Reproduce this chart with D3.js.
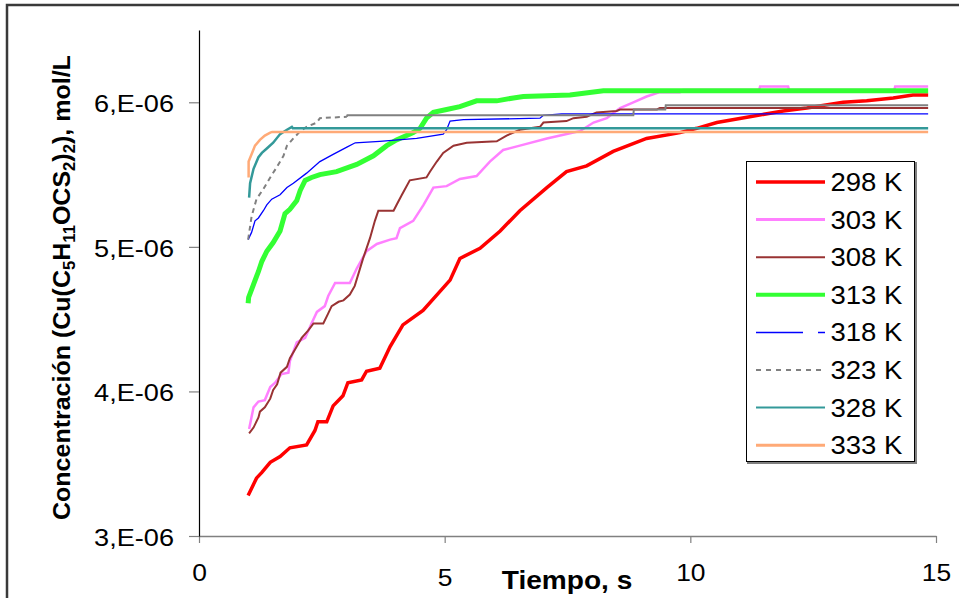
<!DOCTYPE html>
<html>
<head>
<meta charset="utf-8">
<script src="https://cdn.jsdelivr.net/npm/d3@7"></script>
<style>
  body { margin: 0; background: #fff; }
  text { font-family: "Liberation Sans", Arial, sans-serif; fill: #000; }
</style>
</head>
<body>
<script>
// time in s, concentration in units of 1E-06 mol/L
var s298 = [[1.00,3.28],[1.17,3.40],[1.28,3.44],[1.45,3.51],[1.65,3.55],[1.85,3.61],[2.19,3.63],[2.36,3.73],
  [2.42,3.79],[2.60,3.79],[2.73,3.90],[2.93,3.97],[3.03,4.06],[3.31,4.08],[3.41,4.14],[3.68,4.16],[3.89,4.31],
  [4.15,4.46],[4.56,4.56],[5.11,4.77],[5.31,4.92],[5.72,4.99],[6.13,5.11],[6.53,5.25],[7.08,5.41],[7.48,5.52],
  [7.89,5.56],[8.43,5.66],[9.11,5.75],[9.79,5.79],[10.13,5.82],[10.54,5.86],[11.21,5.90],[11.89,5.94],
  [12.37,5.96],[13.11,6.00],[13.59,6.01],[14.13,6.03],[14.53,6.05],[14.84,6.05]];
var s303 = [[1.02,3.74],[1.11,3.89],[1.21,3.93],[1.34,3.94],[1.45,4.03],[1.55,4.06],[1.68,4.12],[1.82,4.13],
  [1.85,4.21],[1.99,4.34],[2.16,4.37],[2.29,4.47],[2.40,4.55],[2.56,4.59],[2.63,4.66],[2.77,4.75],[3.07,4.75],
  [3.21,4.85],[3.41,4.97],[3.62,5.02],[3.89,5.05],[4.02,5.06],[4.09,5.13],[4.36,5.18],[4.57,5.29],[4.77,5.41],
  [5.04,5.42],[5.31,5.47],[5.65,5.49],[5.92,5.59],[6.19,5.67],[6.53,5.70],[7.08,5.75],[7.35,5.77],[7.75,5.80],
  [8.03,5.86],[8.30,5.89],[8.57,5.96],[8.84,6.00],[9.11,6.04],[9.38,6.07],[9.79,6.07],[9.85,6.085],[11.40,6.085],
  [11.42,6.11],[11.99,6.11],[12.01,6.085],[14.15,6.085],[14.17,6.11],[14.84,6.11]];
var s308 = [[1.02,3.71],[1.11,3.75],[1.21,3.82],[1.24,3.86],[1.34,3.89],[1.45,3.95],[1.51,4.01],[1.59,4.05],
  [1.66,4.13],[1.79,4.17],[1.85,4.23],[1.99,4.31],[2.09,4.37],[2.22,4.42],[2.33,4.47],[2.53,4.47],[2.63,4.54],
  [2.70,4.59],[2.84,4.62],[2.94,4.63],[3.07,4.67],[3.17,4.73],[3.34,4.92],[3.48,5.06],[3.58,5.18],[3.65,5.25],
  [3.96,5.25],[4.02,5.29],[4.13,5.36],[4.29,5.46],[4.63,5.48],[4.70,5.52],[4.84,5.59],[4.97,5.65],[5.18,5.70],
  [5.45,5.72],[6.06,5.73],[6.26,5.77],[6.53,5.81],[6.94,5.83],[7.01,5.86],[7.48,5.87],[7.62,5.89],[7.89,5.90],
  [8.09,5.93],[8.50,5.94],[8.57,5.95],[9.32,5.95],[9.38,5.96],[14.84,5.96]];
var s313 = [[1.00,4.61],[1.01,4.65],[1.11,4.74],[1.21,4.83],[1.28,4.90],[1.38,4.97],[1.51,5.03],[1.65,5.11],
  [1.75,5.23],[1.85,5.26],[1.99,5.32],[2.06,5.39],[2.16,5.46],[2.29,5.48],[2.46,5.50],[2.80,5.52],[3.21,5.57],
  [3.55,5.63],[3.82,5.70],[4.02,5.74],[4.36,5.79],[4.50,5.82],[4.63,5.89],[4.77,5.93],[5.04,5.95],[5.31,5.97],
  [5.65,6.01],[6.06,6.01],[6.40,6.03],[6.60,6.04],[7.55,6.05],[8.23,6.08],[9.79,6.08],[14.84,6.08]];
var s318 = [[1.00,5.05],[1.07,5.10],[1.14,5.18],[1.21,5.20],[1.31,5.25],[1.38,5.29],[1.48,5.33],[1.65,5.36],
  [1.79,5.41],[1.92,5.44],[2.19,5.51],[2.46,5.59],[2.73,5.64],[3.01,5.69],[3.18,5.72],[3.68,5.73],[4.43,5.75],
  [4.97,5.78],[5.04,5.81],[5.11,5.87],[5.38,5.88],[6.94,5.89],[7.01,5.91],[7.38,5.92],[14.84,5.92]];
var s323 = [[1.00,5.05],[1.07,5.21],[1.17,5.33],[1.31,5.40],[1.45,5.48],[1.58,5.55],[1.72,5.63],[1.79,5.70],
  [1.92,5.75],[2.06,5.80],[2.19,5.83],[2.40,5.86],[2.46,5.89],[3.01,5.90],[3.02,5.91],[8.84,5.91],[8.85,5.95],
  [9.49,5.95],[9.50,5.98],[14.84,5.98]];
var s328 = [[1.02,5.34],[1.04,5.44],[1.11,5.54],[1.21,5.62],[1.28,5.65],[1.38,5.68],[1.51,5.72],[1.65,5.78],
  [1.79,5.81],[1.89,5.83],[1.91,5.82],[14.84,5.82]];
var s333 = [[1.01,5.48],[1.01,5.59],[1.07,5.64],[1.14,5.70],[1.24,5.74],[1.34,5.77],[1.45,5.79],[1.49,5.795],
  [14.84,5.795]];

var labels = ["298 K", "303 K", "308 K", "313 K", "318 K", "323 K", "328 K", "333 K"];
var seriesData = [s298, s303, s308, s313, s318, s323, s328, s333];
var xTicks = [0, 5, 10, 15];
var yTicks = [3, 4, 5, 6];

// line styles per series
var styles = [
  { color: "#FF0000", width: 3.5, legendWidth: 3.5 },
  { color: "#FF80FF", width: 2.5, legendWidth: 3 },
  { color: "#993333", width: 2, legendWidth: 2 },
  { color: "#33FF33", width: 5, legendWidth: 4 },
  { color: "#0000FF", width: 1.3, legendWidth: 1.5, legendDash: "47,15" },
  { color: "#808080", width: 2, legendWidth: 2, dash: "5,4", dashUntil: 3.01, legendDash: "5,5" },
  { color: "#339999", width: 2.5, legendWidth: 2 },
  { color: "#FFAA77", width: 2.5, legendWidth: 3 }
];

var svgWidth = 959;
var svgHeight = 598;
var margin = { top: 30, right: 23, bottom: 62, left: 199 };
var width = svgWidth - margin.left - margin.right;
var height = svgHeight - margin.top - margin.bottom;

var svg = d3.select("body")
  .append("svg")
  .attr("width", svgWidth)
  .attr("height", svgHeight);

// chart frame (only top and left sides are inside the picture)
svg.append("rect")
  .attr("x", 7).attr("y", 5)
  .attr("width", 1000).attr("height", 1000)
  .attr("fill", "none")
  .attr("stroke", "#3a3a3a")
  .attr("stroke-width", 2.5);

var chartGroup = svg.append("g")
  .attr("transform", `translate(${margin.left}, ${margin.top})`);

var xScale = d3.scaleLinear().domain([0, 15]).range([0, width]);
var yScale = d3.scaleLinear().domain([3, 6.5]).range([height, 0]);

// x axis
var bottomAxis = d3.axisBottom(xScale).tickValues(xTicks).tickSize(7).tickSizeOuter(0);
var xAxisG = chartGroup.append("g")
  .attr("transform", `translate(0, ${height})`)
  .call(bottomAxis);
xAxisG.select(".domain").attr("stroke", "#808080").attr("stroke-width", 1.5);
xAxisG.selectAll(".tick line").attr("stroke", "#808080").attr("stroke-width", 1.2);
// the "5" label sits a little lower in the original
xAxisG.selectAll(".tick text")
  .attr("y", null).attr("dy", null)
  .attr("transform", d => `translate(0,${d === 5 ? 50 : 45}) scale(1.1,1)`)
  .style("font-size", "24px");

// y axis
var leftAxis = d3.axisLeft(yScale).tickValues(yTicks).tickSize(10).tickSizeOuter(0)
  .tickFormat(d => d + ",E-06");
var yAxisG = chartGroup.append("g").call(leftAxis);
yAxisG.select(".domain").attr("stroke", "#000").attr("stroke-width", 1.2);
yAxisG.selectAll(".tick line").attr("stroke", "#808080").attr("stroke-width", 1.2);
yAxisG.selectAll(".tick text")
  .attr("x", null).attr("dy", null)
  .attr("transform", "translate(-25,9.5) scale(1.18,1)")
  .style("font-size", "23px");

// series lines
var drawLine = d3.line()
  .x(d => xScale(d[0]))
  .y(d => yScale(d[1]));

seriesData.forEach(function(data, i) {
  var st = styles[i];
  if (st.dash) {
    chartGroup.append("path")
      .attr("d", drawLine(data.filter(d => d[0] <= st.dashUntil)))
      .attr("fill", "none").attr("stroke", st.color).attr("stroke-width", st.width)
      .attr("stroke-dasharray", st.dash);
    chartGroup.append("path")
      .attr("d", drawLine(data.filter(d => d[0] >= st.dashUntil)))
      .attr("fill", "none").attr("stroke", st.color).attr("stroke-width", st.width);
  } else {
    chartGroup.append("path")
      .attr("d", drawLine(data))
      .attr("fill", "none").attr("stroke", st.color).attr("stroke-width", st.width);
  }
});

// axis titles
svg.append("text")
  .attr("transform", "translate(567,589) scale(1.08,1)")
  .attr("text-anchor", "middle")
  .style("font-size", "26px")
  .style("font-weight", "bold")
  .text("Tiempo, s");

var titleParts = [["Concentración (Cu(C", false], ["5", true], ["H", false], ["11", true],
  ["OCS", false], ["2", true], [")", false], ["2", true], ["), mol/L", false]];
var yTitle = svg.append("text")
  .attr("text-anchor", "start")
  .style("font-size", "24px")
  .style("font-weight", "bold");
var wasSub = false;
titleParts.forEach(function(p) {
  var ts = yTitle.append("tspan").text(p[0]);
  if (p[1]) {
    ts.style("font-size", "16px").attr("dy", wasSub ? 0 : 5);
  } else {
    ts.attr("dy", wasSub ? -5 : 0);
  }
  wasSub = p[1];
});
// fit the rotated title between y=55 and y=520 like the original
var tb = yTitle.node().getBBox();
var k = 465 / tb.width;
yTitle.attr("transform", `translate(70,520) rotate(-90) scale(${k},1) translate(${-tb.x},0)`);

// legend
var legend = svg.append("g").attr("transform", "translate(746.5,161.5)");
legend.append("rect")
  .attr("x", 1.5).attr("y", 1.5).attr("width", 168).attr("height", 300)
  .attr("fill", "none").attr("stroke", "#808080").attr("stroke-width", 2);
legend.append("rect")
  .attr("width", 168).attr("height", 300)
  .attr("fill", "#fff").attr("stroke", "#000").attr("stroke-width", 1);

labels.forEach(function(lab, i) {
  var cy = 20.5 + i * 37.6;
  var st = styles[i];
  legend.append("line")
    .attr("x1", 9.5).attr("x2", 78.5)
    .attr("y1", cy).attr("y2", cy)
    .attr("stroke", st.color)
    .attr("stroke-width", st.legendWidth)
    .attr("stroke-dasharray", st.legendDash || null);
  legend.append("text")
    .attr("transform", `translate(84,${cy + 9}) scale(1.1,1)`)
    .style("font-size", "25px")
    .text(lab);
});
</script>
</body>
</html>
